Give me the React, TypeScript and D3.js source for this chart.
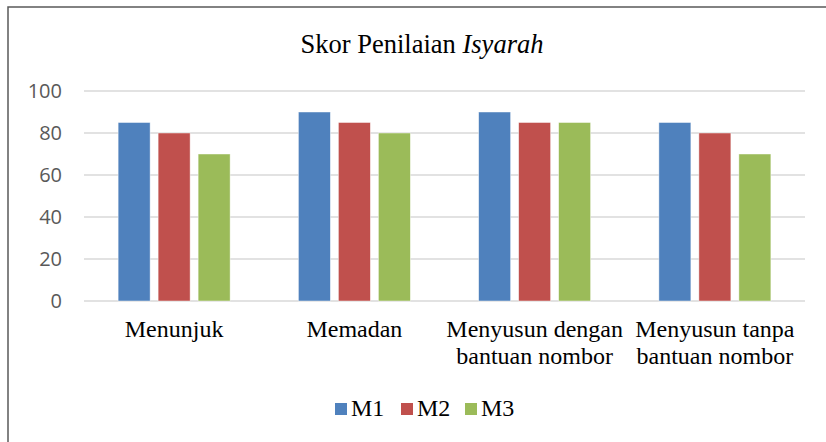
import React from "react";
import * as d3 from "d3";

const categories = [
  ["Menunjuk"],
  ["Memadan"],
  ["Menyusun dengan", "bantuan nombor"],
  ["Menyusun tanpa", "bantuan nombor"],
];
const seriesNames = ["M1", "M2", "M3"];
const m1 = [85, 90, 90, 85];
const m2 = [80, 85, 85, 80];
const m3 = [70, 80, 85, 70];
const yTicks = [0, 20, 40, 60, 80, 100];
const colors = ["#4F81BD", "#C0504D", "#9BBB59"];

const width = 826;
const height = 442;

const App = () => {
  const seriesValues = [m1, m2, m3];
  const plotLeft = 84;
  const plotRight = 805;
  const y = d3.scaleLinear().domain([0, 100]).range([301, 91]);
  const x = d3
    .scaleBand<number>()
    .domain(d3.range(categories.length))
    .range([plotLeft, plotRight])
    .padding(0);
  const groupW = 112;
  const inner = d3
    .scaleBand<number>()
    .domain(d3.range(seriesNames.length))
    .range([(x.bandwidth() - groupW) / 2, (x.bandwidth() + groupW) / 2])
    .paddingInner(0.2)
    .paddingOuter(0);

  const serif = "'Liberation Serif', 'Times New Roman', serif";
  const sans = "'Open Sans', 'Liberation Sans', sans-serif";

  // legend layout
  const legendX = [335, 401, 465];

  return (
    <svg
      width={width}
      height={height}
      style={{ position: "absolute", left: 0, top: 0, background: "#fff" }}
    >
      <rect x={8} y={7} width={900} height={500} fill="#fff" stroke="#595959" strokeWidth={1.5} />
      <text x={422} y={53} textAnchor="middle" fontFamily={serif} fontSize={26.5} fill="#000">
        Skor Penilaian <tspan fontStyle="italic">Isyarah</tspan>
      </text>

      {yTicks.map((t) => (
        <g key={t}>
          <line x1={plotLeft} x2={plotRight} y1={y(t)} y2={y(t)} stroke="#D9D9D9" strokeWidth={1.3} />
          <text
            x={62}
            y={y(t)}
            dy="0.35em"
            textAnchor="end"
            fontFamily={sans}
            fontSize={20}
            fill="#595959"
          >
            {t}
          </text>
        </g>
      ))}

      {categories.map((c, i) => (
        <g key={i} transform={`translate(${x(i)},0)`}>
          {seriesValues.map((vals, s) => (
            <rect
              key={s}
              x={inner(s)}
              y={y(vals[i])}
              width={inner.bandwidth()}
              height={y(0) - y(vals[i])}
              fill={colors[s]}
              stroke="#fff"
              strokeOpacity={0.6}
              strokeWidth={0.75}
            />
          ))}
          {c.map((line, li) => (
            <text
              key={li}
              x={x.bandwidth() / 2}
              y={337 + li * 27}
              textAnchor="middle"
              fontFamily={serif}
              fontSize={24}
              fill="#000"
            >
              {line}
            </text>
          ))}
        </g>
      ))}

      {seriesNames.map((n, s) => (
        <g key={n} transform={`translate(${legendX[s]},0)`}>
          <rect x={0} y={403} width={12} height={12} fill={colors[s]} />
          <text x={16} y={416} fontFamily={serif} fontSize={24} fill="#000">
            {n}
          </text>
        </g>
      ))}
    </svg>
  );
};

export default App;
